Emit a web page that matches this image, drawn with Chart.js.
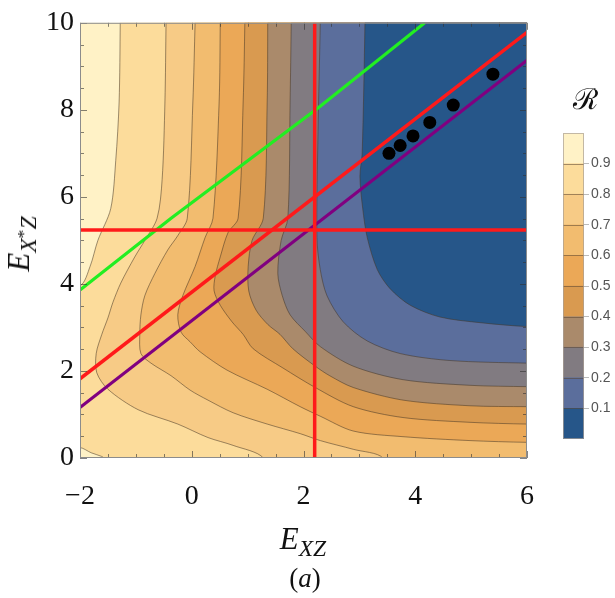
<!DOCTYPE html>
<html>
<head>
<meta charset="utf-8">
<script src="https://cdn.jsdelivr.net/npm/chart.js@4.4.1/dist/chart.umd.min.js"></script>
<style>
  body { margin: 0; background: #fff; }
  #wrap { position: relative; width: 615px; height: 598px; overflow: hidden; background: #fff; }
  canvas { position: absolute; }
  #plot { left: 0; top: 0; }
  #bar { left: 550px; top: 118px; }
  .lbl { position: absolute; font-family: "Liberation Serif", serif; color: #111; white-space: nowrap; transform: translate(-50%, -50%); }
  .sub { font-size: 0.76em; position: relative; top: 0.3em; }
  .sup { font-size: 0.75em; position: relative; top: -0.4em; }
</style>
</head>
<body>
<div id="wrap">
  <canvas id="plot" width="615" height="598"></canvas>
  <canvas id="bar" width="65" height="340"></canvas>
  <div class="lbl" style="left:303px; top:539px; font-size:31px;"><i>E</i><span class="sub"><i>XZ</i></span></div>
  <div class="lbl" style="left:305px; top:578px; font-size:27px;">(<i>a</i>)</div>
  <div class="lbl" style="left:19px; top:244px; font-size:31px; transform: translate(-50%, -50%) rotate(-90deg);"><i>E</i><span class="sub"><i>X</i><span class="sup">*</span><i>Z</i></span></div>
  <div class="lbl" style="left:585px; top:97px; font-size:29px; font-family:'DejaVu Serif', serif;">ℛ</div>
</div>
<script>
// axis ticks
const xTickValues = [-2, 0, 2, 4, 6];
const yTickValues = [0, 2, 4, 6, 8, 10];
const xMinorTicks = [-1.5, -1, -0.5, 0.5, 1, 1.5, 2.5, 3, 3.5, 4.5, 5, 5.5];
const yMinorTicks = [0.5, 1, 1.5, 2.5, 3, 3.5, 4.5, 5, 5.5, 6.5, 7, 7.5, 8.5, 9, 9.5];

// contour levels of R and the colour of each band (lowest band first)
const levels = [0.1, 0.2, 0.3, 0.4, 0.5, 0.6, 0.7, 0.8, 0.9];
const bandColors = ['#265689', '#5b6e9c', '#817b81', '#aa8a6b', '#d99a50', '#eba857',
                    '#f2bc6f', '#f7cb86', '#fcdc9b', '#fff2c6'];

// contour lines, [E_XZ, E_X*Z]
const c10 = [[3.10,10],[3.05,7.0],[3.01,6.47],[3.06,5.73],[3.14,5.07],[3.32,4.33],[3.55,3.89],[3.91,3.51],[4.44,3.24],[5.16,3.11],[6,3.02]];
const c20 = [[2.30,10],[2.26,7.5],[2.24,5.07],[2.30,4.33],[2.42,3.73],[2.71,3.13],[3.14,2.69],[3.73,2.4],[4.62,2.24],[6,2.18]];
const c30 = [[1.78,10],[1.76,8.18],[1.72,5.51],[1.60,5.0],[1.54,4.24],[1.62,3.73],[1.76,3.29],[2.03,2.91],[2.30,2.56],[2.89,2.11],[3.78,1.8],[4.98,1.67],[6,1.64]];
const c40 = [[1.36,10],[1.35,8.18],[1.28,5.51],[1.08,5.0],[1.01,4.4],[1.02,3.84],[1.15,3.4],[1.36,3.07],[1.58,2.84],[1.81,2.51],[2.21,2.11],[2.47,1.89],[2.89,1.62],[3.78,1.33],[4.98,1.2],[6,1.18]];
const c50 = [[0.95,10],[0.92,8.18],[0.83,5.51],[0.65,5.18],[0.51,4.62],[0.42,4.18],[0.40,3.84],[0.51,3.51],[0.72,3.13],[0.92,2.84],[1.10,2.51],[1.63,2.07],[2.21,1.62],[2.89,1.18],[3.78,0.93],[4.98,0.82],[6,0.78]];
const c60 = [[0.51,10],[0.49,8.18],[0.38,5.51],[0.24,5.07],[0.06,4.4],[-0.16,3.73],[-0.25,3.29],[-0.19,2.89],[-0.03,2.67],[0.15,2.44],[0.63,2.02],[1.35,1.58],[1.94,1.18],[2.30,0.96],[2.89,0.62],[3.78,0.49],[4.98,0.4],[6,0.36]];
const c70 = [[0.06,10],[0.02,8.18],[-0.08,5.51],[-0.25,5.11],[-0.43,4.78],[-0.66,4.24],[-0.84,3.73],[-0.91,3.29],[-0.93,2.84],[-0.91,2.4],[-0.73,2.18],[-0.37,1.89],[-0.03,1.56],[0.29,1.33],[0.74,1.04],[1.35,0.78],[1.94,0.56],[2.30,0.4],[2.89,0.2],[3.42,0]];
const c80 = [[-0.46,10],[-0.48,8.18],[-0.53,6.4],[-0.62,5.51],[-0.84,5.0],[-1.02,4.62],[-1.27,4.02],[-1.41,3.58],[-1.5,3.22],[-1.61,2.84],[-1.71,2.4],[-1.70,1.96],[-1.5,1.58],[-0.96,1.11],[-0.25,0.78],[0.29,0.47],[0.74,0.29],[1.28,0]];
const c90 = [[-1.28,10],[-1.30,8.18],[-1.36,6.84],[-1.45,5.73],[-1.68,5.0],[-1.82,4.4],[-2,3.96]];
const c90corner = [[-2,0.24],[-1.8,0.12],[-1.62,0.04],[-1.58,0]];

// overlay lines and points
const redVertical = [[2.2, 0], [2.2, 10]];
const redHorizontal = [[-2, 5.24], [6, 5.24]];
const redDiagonal = [[-2, 1.82], [6, 9.78]];
const purpleDiagonal = [[-2, 1.16], [6, 9.14]];
const greenDiagonal = [[-2, 3.86], [-0.37, 5.51], [2.26, 8.04], [4.17, 10]];
const dotsX = [3.53, 3.73, 3.96, 4.26, 4.68, 5.39];
const dotsY = [7.0, 7.18, 7.4, 7.71, 8.11, 8.82];

const X0 = -2, X1 = 6, Y0 = 0, Y1 = 10, OUT = 0.6;
const pt = p => ({x: p[0], y: p[1], c: true});
const far = (x, y) => ({x, y, c: false});

// region where R is below a level: the contour closed round the outside of the frame
function regionTopRight(c) {
  const last = c[c.length - 1];
  return [far(c[0][0], Y1 + OUT), ...c.map(pt), far(X1 + OUT, last[1]), far(X1 + OUT, Y1 + OUT)];
}
function regionTopBottom(c) {
  const last = c[c.length - 1];
  return [...c.map(pt), far(last[0], Y0 - OUT), far(X1 + OUT, Y0 - OUT), far(X1 + OUT, Y1 + OUT), far(c[0][0], Y1 + OUT)];
}
function regionTopLeft(c, corner) {
  const last = c[c.length - 1], cl = corner[corner.length - 1];
  return [far(c[0][0], Y1 + OUT), ...c.map(pt), far(X0 - OUT, last[1]), far(X0 - OUT, corner[0][1]),
          ...corner.map(pt), far(cl[0], Y0 - OUT), far(X1 + OUT, Y0 - OUT), far(X1 + OUT, Y1 + OUT)];
}

const regions = [
  regionTopRight(c10), regionTopRight(c20), regionTopRight(c30), regionTopRight(c40),
  regionTopRight(c50), regionTopRight(c60), regionTopBottom(c70), regionTopBottom(c80),
  regionTopLeft(c90, c90corner)
];

const TENSION = 0.3;
const contourColor = 'rgba(70,55,40,0.6)';
const datasets = [];
regions.forEach((pts, k) => {
  datasets.push({
    data: pts, showLine: true, fill: 'shape', backgroundColor: bandColors[k],
    borderWidth: 0, pointRadius: 0, tension: TENSION, order: 100 + k
  });
  datasets.push({
    data: pts, showLine: true, fill: false, borderWidth: 0.9, pointRadius: 0, tension: TENSION, order: 50,
    segment: { borderColor: s => (pts[s.p0DataIndex].c && pts[s.p1DataIndex].c) ? contourColor : 'rgba(0,0,0,0)' }
  });
});
const toPts = a => a.map(p => ({x: p[0], y: p[1]}));
datasets.push({ data: toPts(greenDiagonal), showLine: true, borderColor: '#22ee22', borderWidth: 3.2, pointRadius: 0, order: 20 });
datasets.push({ data: toPts(purpleDiagonal), showLine: true, borderColor: '#800080', borderWidth: 3, pointRadius: 0, order: 19 });
datasets.push({ data: toPts(redDiagonal), showLine: true, borderColor: '#ff1a1a', borderWidth: 3.5, pointRadius: 0, order: 18 });
datasets.push({ data: toPts(redHorizontal), showLine: true, borderColor: '#ff1a1a', borderWidth: 3.5, pointRadius: 0, order: 17 });
datasets.push({ data: toPts(redVertical), showLine: true, borderColor: '#ff1a1a', borderWidth: 3.5, pointRadius: 0, order: 16 });
datasets.push({ data: dotsX.map((x, i) => ({x, y: dotsY[i]})), showLine: false, pointRadius: 6.5,
                pointBackgroundColor: '#000', pointBorderWidth: 0, order: 0 });

const framePlugin = {
  id: 'frame',
  beforeDatasetsDraw(chart) {
    const {ctx, chartArea: a} = chart;
    ctx.save();
    ctx.fillStyle = bandColors[9];
    ctx.fillRect(a.left, a.top, a.width, a.height);
    ctx.restore();
  },
  afterDatasetsDraw(chart) {
    const {ctx, chartArea: a, scales: {x, y}} = chart;
    ctx.save();
    ctx.strokeStyle = 'rgba(50,50,50,0.6)';
    ctx.lineWidth = 1;
    ctx.beginPath();
    const xt = (v, len) => {
      const p = Math.round(x.getPixelForValue(v)) + 0.5;
      ctx.moveTo(p, a.bottom); ctx.lineTo(p, a.bottom - len);
      ctx.moveTo(p, a.top); ctx.lineTo(p, a.top + len);
    };
    const yt = (v, len) => {
      const p = Math.round(y.getPixelForValue(v)) + 0.5;
      ctx.moveTo(a.left, p); ctx.lineTo(a.left + len, p);
      ctx.moveTo(a.right, p); ctx.lineTo(a.right - len, p);
    };
    xTickValues.forEach(v => xt(v, 7));
    xMinorTicks.forEach(v => xt(v, 4));
    yTickValues.forEach(v => yt(v, 7));
    yMinorTicks.forEach(v => yt(v, 4));
    ctx.stroke();
    ctx.strokeStyle = '#8c8c8c';
    ctx.strokeRect(a.left + 0.5, a.top + 0.5, a.width - 1, a.height - 1);
    ctx.restore();
  }
};

const tickFont = { family: "'Liberation Serif', serif", size: 28 };
new Chart(document.getElementById('plot'), {
  type: 'scatter',
  data: { datasets },
  options: {
    responsive: false, animation: false, devicePixelRatio: 1,
    layout: { padding: { top: 8, right: 88, left: 0, bottom: 0 } },
    elements: { line: { capBezierPoints: false } },
    plugins: { legend: { display: false }, tooltip: { enabled: false } },
    scales: {
      x: {
        type: 'linear', position: 'bottom', min: X0, max: X1,
        afterBuildTicks: s => { s.ticks = xTickValues.map(v => ({value: v})); },
        afterFit: s => { s.height = 140; },
        grid: { display: false, drawTicks: false }, border: { display: false },
        ticks: { font: tickFont, color: '#111', padding: 22, autoSkip: false, maxRotation: 0,
                 callback: v => String(v).replace('-', '\u2212') }
      },
      y: {
        type: 'linear', position: 'left', min: Y0, max: Y1,
        afterBuildTicks: s => { s.ticks = yTickValues.map(v => ({value: v})); },
        afterFit: s => { s.width = 80; },
        grid: { display: false, drawTicks: false }, border: { display: false },
        ticks: { font: tickFont, color: '#111', padding: 6, autoSkip: false }
      }
    }
  },
  plugins: [framePlugin]
});

// colour bar legend
const barBounds = [0, ...levels, 1];
const barFrame = {
  id: 'barFrame',
  afterDatasetsDraw(chart) {
    const {ctx, chartArea: a, scales: {y}} = chart;
    ctx.save();
    ctx.strokeStyle = 'rgba(90,70,50,0.55)';
    ctx.lineWidth = 1;
    ctx.beginPath();
    levels.forEach(v => {
      const p = Math.round(y.getPixelForValue(v)) + 0.5;
      ctx.moveTo(a.left, p); ctx.lineTo(a.right, p);
    });
    ctx.stroke();
    ctx.strokeStyle = 'rgba(170,160,150,0.7)';
    ctx.strokeRect(a.left + 0.5, a.top + 0.5, a.width - 1, a.height - 1);
    ctx.restore();
  }
};
new Chart(document.getElementById('bar'), {
  type: 'bar',
  data: {
    labels: [''],
    datasets: bandColors.map((c, i) => ({
      data: [[barBounds[i], barBounds[i + 1]]], backgroundColor: c, borderWidth: 0,
      barPercentage: 1, categoryPercentage: 1, grouped: false
    }))
  },
  options: {
    responsive: false, animation: false, devicePixelRatio: 1,
    layout: { padding: { left: 13, top: 15, bottom: 19, right: 0 } },
    plugins: { legend: { display: false }, tooltip: { enabled: false } },
    scales: {
      x: { display: false },
      y: {
        position: 'right', min: 0, max: 1,
        afterBuildTicks: s => { s.ticks = levels.map(v => ({value: v})); },
        afterFit: s => { s.width = 31; },
        grid: { drawOnChartArea: false, drawTicks: true, tickLength: 5, color: '#bbb' },
        border: { display: false },
        ticks: { padding: 2, color: '#555', font: { family: "'Liberation Sans', sans-serif", size: 14 },
                 callback: v => v.toFixed(1) }
      }
    }
  },
  plugins: [barFrame]
});
</script>
</body>
</html>
